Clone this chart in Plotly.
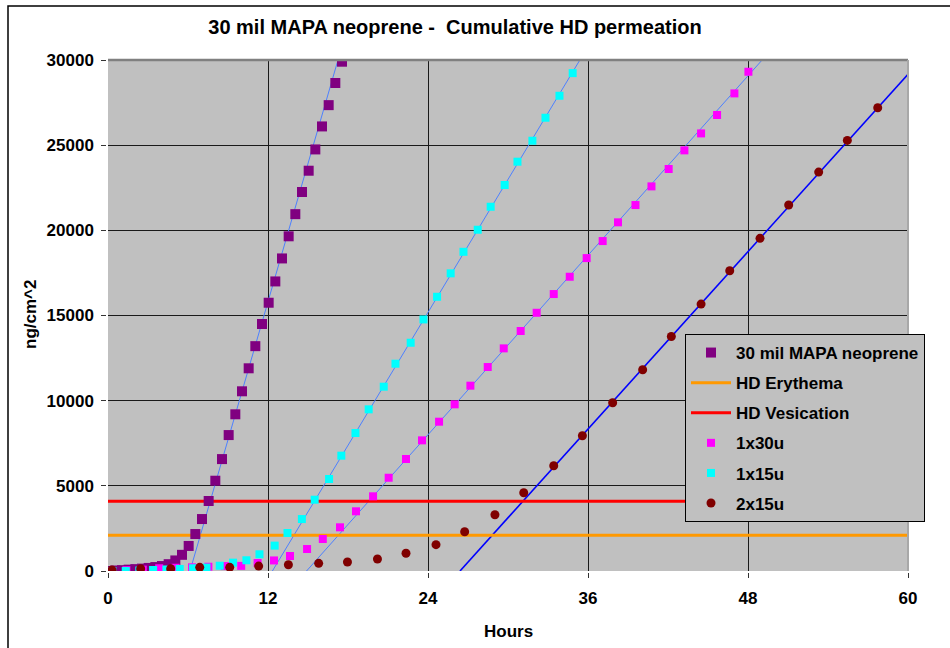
import plotly.graph_objects as go

# ---------------- data ----------------
title_text = "30 mil MAPA neoprene -  Cumulative HD permeation"
x_ticks = [0, 12, 24, 36, 48, 60]

purple_name = "30 mil MAPA neoprene"
purple_x = [0.05, 0.55, 1.05, 1.55, 2.05, 2.55, 3.05, 3.55, 4.05, 4.55, 5.05, 5.55,
            6.05, 6.55, 7.05, 7.55, 8.05, 8.55, 9.05, 9.55, 10.05, 10.55, 11.05, 11.55,
            12.05, 12.55, 13.05, 13.55, 14.05, 14.55, 15.05, 15.55, 16.05, 16.55, 17.05, 17.55]
purple_y = [0, 30, 50, 80, 110, 140, 180, 230, 290, 400, 620, 950,
            1470, 2170, 3050, 4110, 5300, 6570, 7980, 9200, 10550, 11900, 13200, 14500,
            15750, 17000, 18350, 19650, 20950, 22250, 23500, 24750, 26100, 27350, 28650, 29900]

magenta_name = "1x30u"
magenta_x = [0.15, 1.38, 2.61, 3.84, 5.07, 6.30, 7.53, 8.76, 9.99, 11.22,
             12.45, 13.65, 14.93, 16.11, 17.40, 18.60, 19.88, 21.05, 22.35, 23.55,
             24.83, 26.0, 27.18, 28.48, 29.68, 30.95, 32.15, 33.43, 34.63, 35.90,
             37.10, 38.25, 39.56, 40.76, 42.05, 43.23, 44.48, 45.68, 46.98, 48.03]
magenta_y = [0, 50, 80, 160, 190, 215, 250, 290, 300, 470,
             620, 880, 1290, 1880, 2565, 3505, 4385, 5475, 6575, 7670,
             8765, 9785, 10880, 11975, 13070, 14090, 15160, 16260, 17275, 18370,
             19370, 20470, 21485, 22580, 23600, 24695, 25690, 26770, 28040, 29310]

cyan_name = "1x15u"
cyan_x = [0.33, 1.33, 2.35, 3.38, 4.38, 5.38, 6.38, 7.38, 8.38, 9.38, 10.38, 11.36,
          12.50, 13.46, 14.54, 15.50, 16.58, 17.50, 18.56, 19.55, 20.68, 21.56, 22.70,
          23.66, 24.68, 25.70, 26.66, 27.73, 28.70, 29.75, 30.71, 31.83, 32.81, 33.86, 34.85]
cyan_y = [0, 0, 30, 60, 90, 120, 160, 200, 310, 490, 630, 980,
          1490, 2230, 3050, 4185, 5400, 6770, 8100, 9490, 10820, 12170, 13400,
          14770, 16100, 17475, 18740, 20035, 21385, 22660, 24030, 25260, 26610, 27900, 29230]

darkred_name = "2x15u"
darkred_x = [0.30, 2.45, 4.70, 6.88, 9.13, 11.30, 13.53, 15.80, 17.96, 20.21, 22.35, 24.60,
             26.75, 29.02, 31.18, 33.43, 35.58, 37.85, 40.10, 42.25, 44.48, 46.63, 48.90,
             51.05, 53.30, 55.45, 57.73]
darkred_y = [60, 135, 135, 215, 215, 290, 370, 450, 530, 705, 1040, 1545,
             2305, 3305, 4595, 6180, 7940, 9880, 11815, 13765, 15670, 17630, 19530,
             21485, 23420, 25280, 27195]

erythema_name = "HD Erythema"
erythema_level = 2100
vesication_name = "HD Vesication"
vesication_level = 4100

# linear trendlines: x-intercept and slope (ng/cm^2 per hour)
trend_x0 = {"purple": 6.15, "cyan": 12.33, "magenta": 14.89, "darkred": 26.4}
trend_slope = {"purple": 2703, "cyan": 1301, "magenta": 878, "darkred": 868}
x_max = 60

# ---------------- figure ----------------
FONT = "Arial, Liberation Sans, sans-serif"
fig = go.Figure()

def trend(key, color, width):
    x0 = trend_x0[key]
    s = trend_slope[key]
    xs = [x0, x_max]
    ys = [s * (x - x0) for x in xs]
    fig.add_trace(go.Scatter(x=xs, y=ys, mode="lines", showlegend=False, hoverinfo="skip",
                             line=dict(color=color, width=width), zorder=0))

fig.add_trace(go.Scatter(x=purple_x, y=purple_y, name=purple_name, mode="markers",
                         marker=dict(symbol="square", size=10, color="#800080"),
                         legendgroup="g1", zorder=2))
fig.add_trace(go.Scatter(x=[0, x_max], y=[erythema_level, erythema_level], name=erythema_name,
                         mode="lines", line=dict(color="#FF9900", width=3),
                         legendgroup="g2", zorder=1))
fig.add_trace(go.Scatter(x=[0, x_max], y=[vesication_level, vesication_level], name=vesication_name,
                         mode="lines", line=dict(color="#FF0000", width=3),
                         legendgroup="g3", zorder=1))
fig.add_trace(go.Scatter(x=magenta_x, y=magenta_y, name=magenta_name, mode="markers",
                         marker=dict(symbol="square", size=8, color="#FF00FF"),
                         legendgroup="g4", zorder=2))
fig.add_trace(go.Scatter(x=cyan_x, y=cyan_y, name=cyan_name, mode="markers",
                         marker=dict(symbol="square", size=8, color="#00FFFF"),
                         legendgroup="g5", zorder=2))
fig.add_trace(go.Scatter(x=darkred_x, y=darkred_y, name=darkred_name, mode="markers",
                         marker=dict(symbol="circle", size=9, color="#800000"),
                         legendgroup="g6", zorder=2))

trend("purple", "#4D80FF", 1)
trend("cyan", "#4D80FF", 1)
trend("magenta", "#4D80FF", 1)
trend("darkred", "#0000FF", 1.6)

axis_font = dict(family=FONT, size=17, color="black", weight="bold")

fig.update_layout(
    width=950, height=648,
    margin=dict(l=108, r=42, t=60, b=77, autoexpand=False),
    paper_bgcolor="white",
    plot_bgcolor="#C0C0C0",
    font=dict(family=FONT, color="black"),
    title=dict(text=title_text, x=455 / 950, y=1 - 27 / 648, xref="container", yref="container",
               xanchor="center", yanchor="middle",
               font=dict(family=FONT, size=20, color="black", weight="bold")),
    xaxis=dict(range=[0, x_max], tickvals=x_ticks, showgrid=True, gridcolor="#1a1a1a", gridwidth=1,
               zeroline=False, showline=True, linecolor="#555555", linewidth=1.5,
               ticks="outside", ticklen=5, tickcolor="#333333", tickfont=axis_font,
               ticklabelstandoff=6),
    yaxis=dict(range=[0, 30000], dtick=5000, tickformat="d", showgrid=True, gridcolor="#1a1a1a",
               gridwidth=1, zeroline=False, showline=True, linecolor="#555555", linewidth=1.5,
               ticks="outside", ticklen=5, tickcolor="#333333", tickfont=axis_font,
               ticklabelstandoff=4),
    legend=dict(x=685 / 950, y=1 - 334 / 648, xref="container", yref="container",
                xanchor="left", yanchor="top", bgcolor="#C0C0C0", bordercolor="black",
                borderwidth=1, tracegroupgap=5, itemwidth=40,
                font=dict(family=FONT, size=17, color="black", weight="bold")),
    showlegend=True,
    annotations=[
        dict(text="Hours", xref="paper", yref="paper", x=(508 - 108) / 800, y=(571 - 631) / 511,
             xanchor="center", yanchor="middle", showarrow=False,
             font=dict(family=FONT, size=17, color="black", weight="bold")),
        dict(text="ng/cm^2", xref="paper", yref="paper", x=(30 - 108) / 800, y=(571 - 315) / 511,
             xanchor="center", yanchor="middle", showarrow=False, textangle=-90,
             font=dict(family=FONT, size=17, color="black", weight="bold")),
    ],
    shapes=[
        # outer chart frame
        dict(type="rect", xref="paper", yref="paper", x0=(8 - 108) / 800, x1=(960 - 108) / 800,
             y0=(571 - 660) / 511, y1=(571 - 6) / 511, line=dict(color="black", width=1.5),
             fillcolor="rgba(0,0,0,0)", layer="below"),
        # plot area top / right border
        dict(type="line", xref="paper", yref="paper", x0=0, x1=1, y0=1, y1=1,
             line=dict(color="#808080", width=2.5), layer="above"),
        dict(type="line", xref="paper", yref="paper", x0=1, x1=1, y0=0, y1=1,
             line=dict(color="#a8a8a8", width=2), layer="above"),
    ],
)

fig.write_html("out.html")
